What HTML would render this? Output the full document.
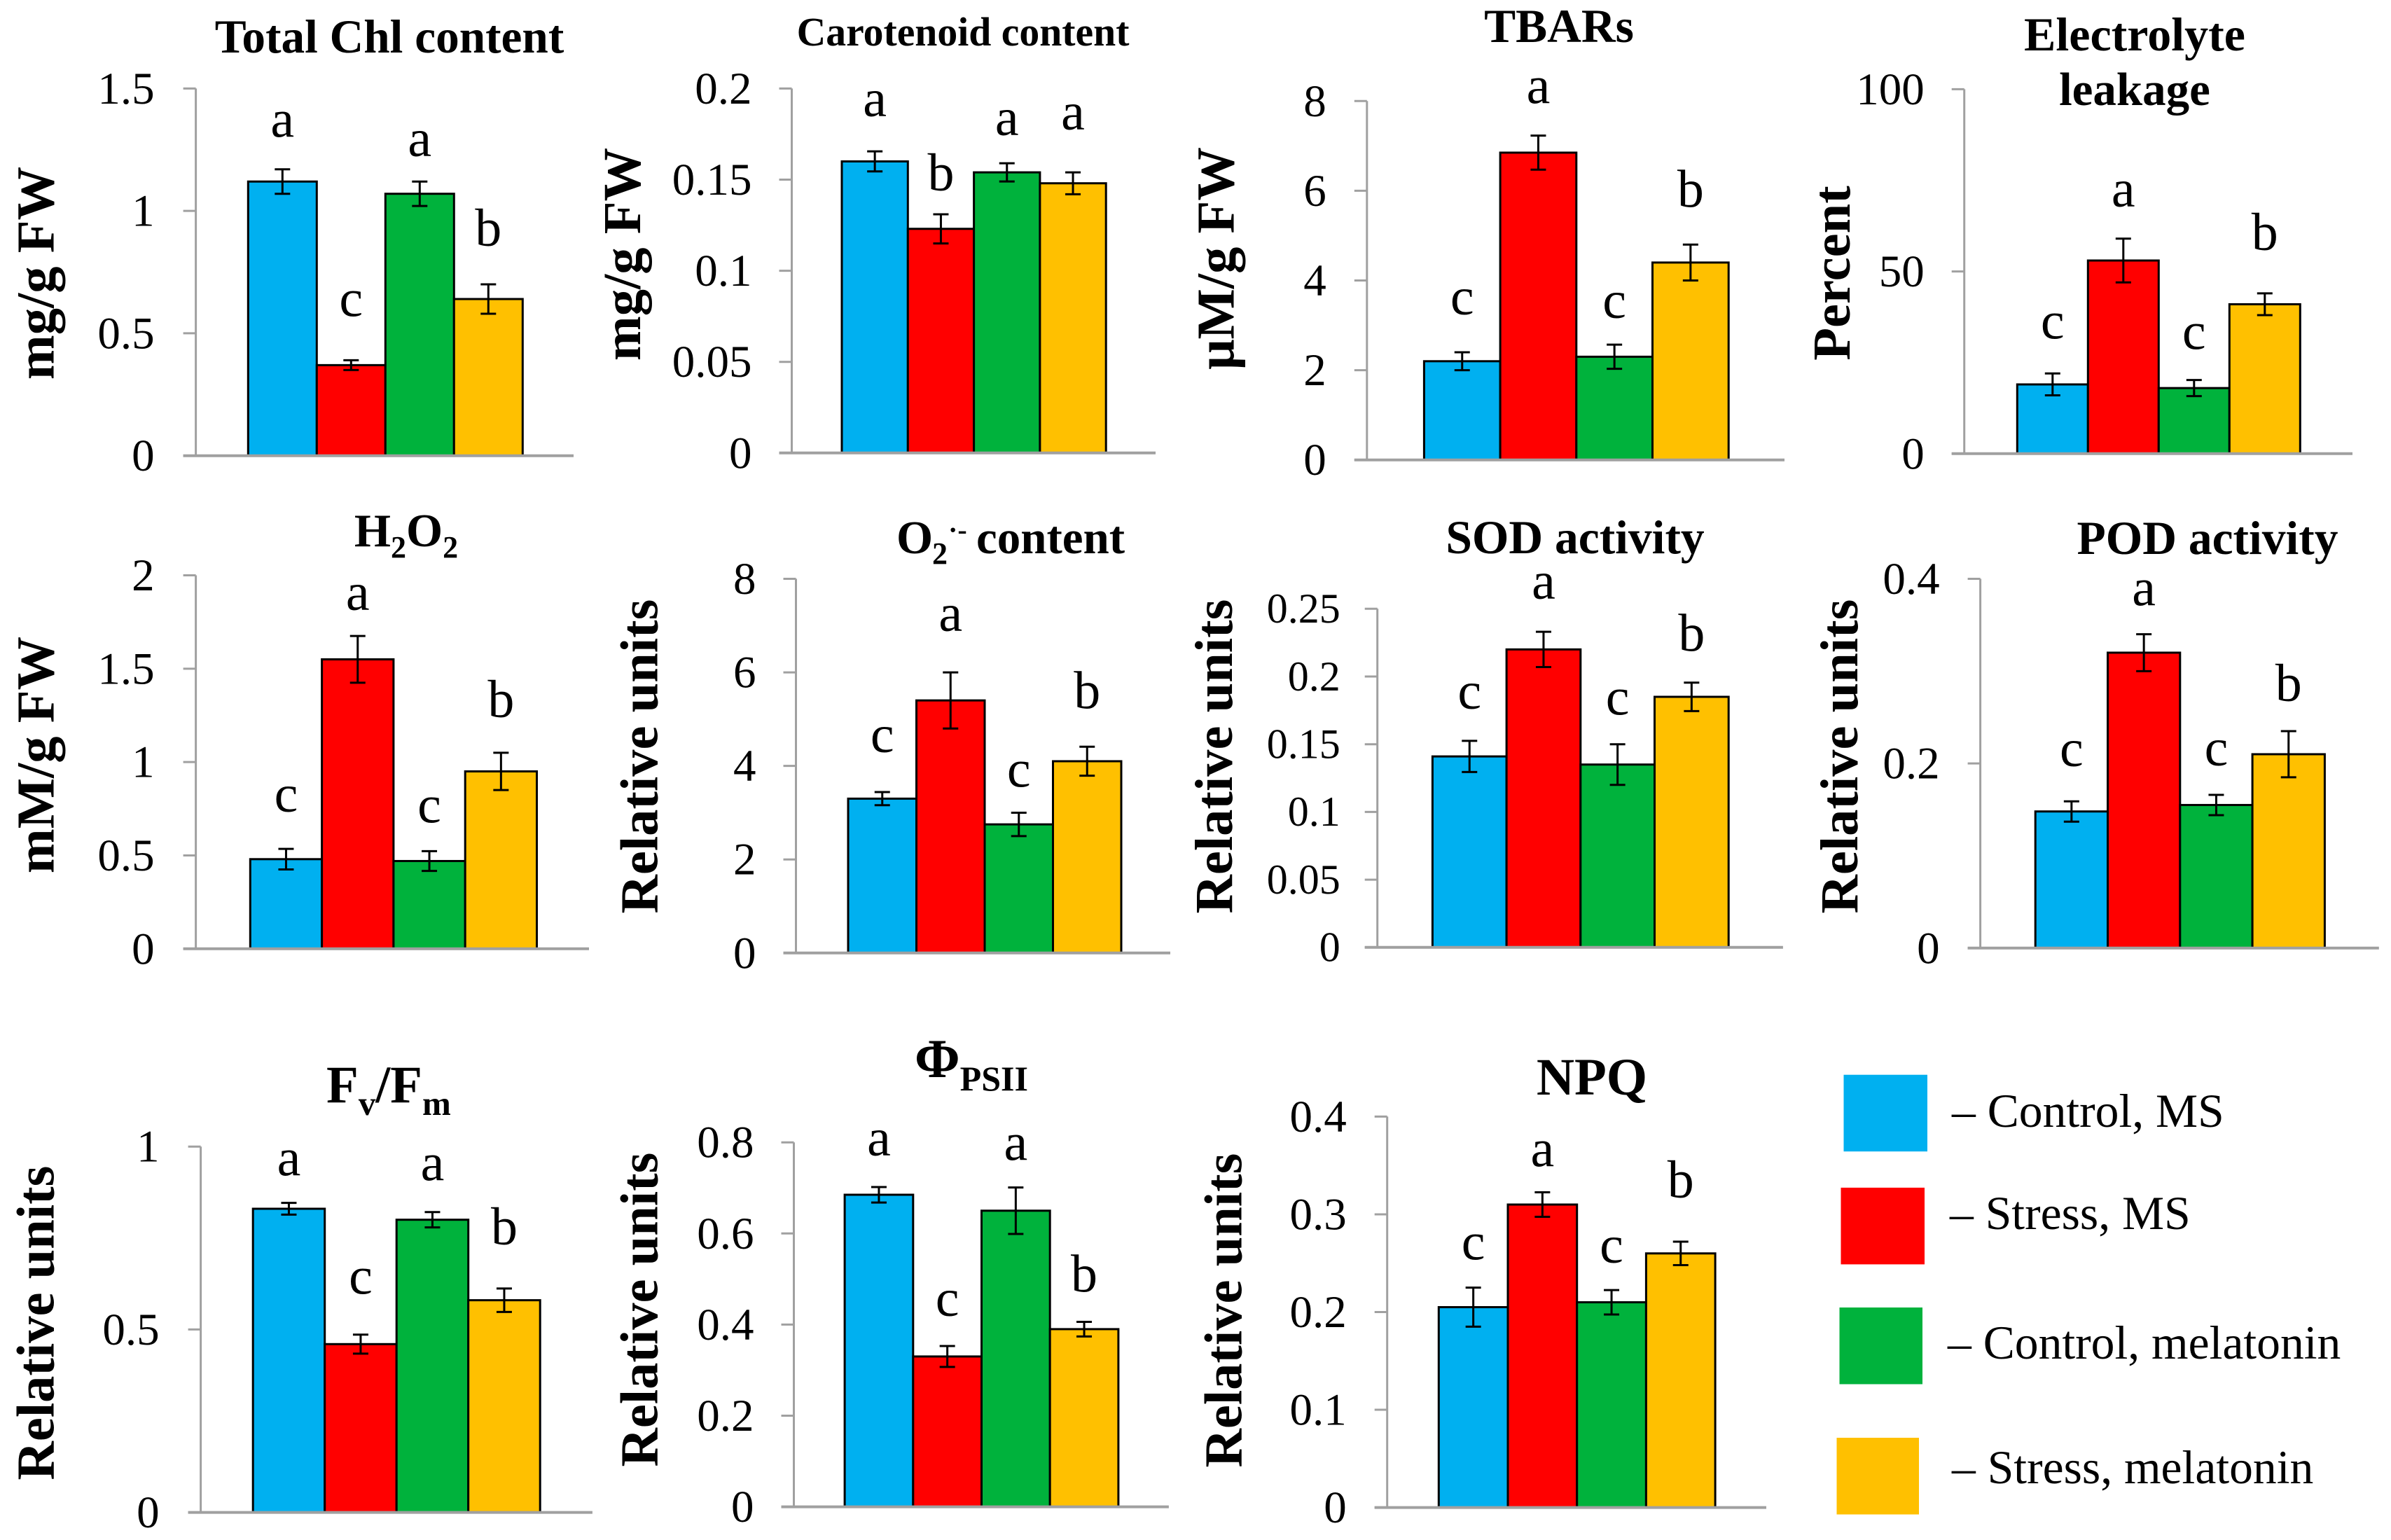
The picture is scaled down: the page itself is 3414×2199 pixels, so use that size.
<!DOCTYPE html>
<html lang="en">
<head>
<meta charset="utf-8">
<title>Melatonin stress response bar charts</title>
<style>
html,body{margin:0;padding:0;background:#fff;}
svg{display:block;}
text{font-family:"Liberation Serif","DejaVu Serif",serif;fill:#000;}
.title{font-weight:bold;text-anchor:middle;}
.ytitle{font-weight:bold;font-size:76.6px;text-anchor:middle;}
.legend-text{font-size:67.6px;}
</style>
</head>
<body>
<svg id="figure" xmlns="http://www.w3.org/2000/svg" width="3414" height="2199" viewBox="0 0 3414 2199">
  <rect width="3414" height="2199" fill="#fff"/>

  <g id="chl"></g>
  <g id="car"></g>
  <g id="tba"></g>
  <g id="ele"></g>
  <g id="hoo"></g>
  <g id="sup"></g>
  <g id="sod"></g>
  <g id="pod"></g>
  <g id="fvm"></g>
  <g id="psi"></g>
  <g id="npq"></g>

  <text class="title" x="556" y="75" font-size="67.3">Total Chl content</text>
  <text class="title" x="1375" y="65" font-size="57.7">Carotenoid content</text>
  <text class="title" x="2226" y="60" font-size="67.5">TBARs</text>
  <text class="title" x="3048" y="72" font-size="68">Electrolyte</text>
  <text class="title" x="3048" y="150" font-size="67">leakage</text>
  <text class="title" x="580" y="780" font-size="67">H<tspan font-size="44" dy="16">2</tspan><tspan dy="-16">O</tspan><tspan font-size="44" dy="16">2</tspan></text>
  <text y="790" font-size="67" font-weight="bold"><tspan x="1280">O</tspan><tspan x="1331" y="805" font-size="44">2</tspan><tspan x="1354" y="770" font-size="40">·-</tspan><tspan x="1394" y="790">content</tspan></text>
  <text class="title" x="2249" y="790" font-size="67.5">SOD activity</text>
  <text class="title" x="3152" y="791" font-size="67.5">POD activity</text>
  <text x="466" y="1574" font-size="75" font-weight="bold">F<tspan font-size="49" dy="18">v</tspan><tspan dy="-18">/F</tspan><tspan font-size="49" dy="18">m</tspan></text>
  <text x="1306" y="1538" font-size="78" font-weight="bold">Φ<tspan font-size="50" dy="19">PSII</tspan></text>
  <text class="title" x="2273" y="1563" font-size="75">NPQ</text>

  <text class="ytitle" transform="translate(76.6 390) rotate(-90)">mg/g FW</text>
  <text class="ytitle" transform="translate(914 363) rotate(-90)">mg/g FW</text>
  <text class="ytitle" transform="translate(1761.5 369) rotate(-90)">μM/g FW</text>
  <text class="ytitle" transform="translate(2641 390) rotate(-90)">Percent</text>
  <text class="ytitle" transform="translate(76.6 1078) rotate(-90)">mM/g FW</text>
  <text class="ytitle" transform="translate(938.5 1080) rotate(-90)">Relative units</text>
  <text class="ytitle" transform="translate(1759 1080) rotate(-90)">Relative units</text>
  <text class="ytitle" transform="translate(2652 1080) rotate(-90)">Relative units</text>
  <text class="ytitle" transform="translate(76.6 1889) rotate(-90)">Relative units</text>
  <text class="ytitle" transform="translate(938.5 1870) rotate(-90)">Relative units</text>
  <text class="ytitle" transform="translate(1772.5 1871) rotate(-90)">Relative units</text>

  <g>
    <rect x="2632.5" y="1534.7" width="119.5" height="109.5" fill="#00B0F0"/>
    <text class="legend-text" x="2787" y="1609">– Control, MS</text>
    <rect x="2628.5" y="1695.9" width="119.5" height="109.5" fill="#FF0000"/>
    <text class="legend-text" x="2784" y="1755">– Stress, MS</text>
    <rect x="2626.5" y="1867" width="118.5" height="109.5" fill="#00B23C"/>
    <text class="legend-text" x="2781" y="1940">– Control, melatonin</text>
    <rect x="2622.5" y="2053" width="117.5" height="109.5" fill="#FFC000"/>
    <text class="legend-text" x="2787" y="2118">– Stress, melatonin</text>
  </g>
</svg>

<script>
const categories = ['Control, MS', 'Stress, MS', 'Control, melatonin', 'Stress, melatonin'];

const chlValues = [1.12, 0.37, 1.07, 0.64];
const chlErrors = [0.05, 0.02, 0.05, 0.06];
const chlLetters = ['a', 'c', 'a', 'b'];
const chlTicks = ['0', '0.5', '1', '1.5'];

const carValues = [0.16, 0.123, 0.154, 0.148];
const carErrors = [0.0055, 0.008, 0.005, 0.006];
const carLetters = ['a', 'b', 'a', 'a'];
const carTicks = ['0', '0.05', '0.1', '0.15', '0.2'];

const tbaValues = [2.2, 6.85, 2.3, 4.4];
const tbaErrors = [0.2, 0.38, 0.27, 0.4];
const tbaLetters = ['c', 'a', 'c', 'b'];
const tbaTicks = ['0', '2', '4', '6', '8'];

const eleValues = [19, 53, 18, 41];
const eleErrors = [3, 6, 2.2, 3];
const eleLetters = ['c', 'a', 'c', 'b'];
const eleTicks = ['0', '50', '100'];

const hooValues = [0.48, 1.55, 0.47, 0.95];
const hooErrors = [0.055, 0.125, 0.053, 0.1];
const hooLetters = ['c', 'a', 'c', 'b'];
const hooTicks = ['0', '0.5', '1', '1.5', '2'];

const supValues = [3.3, 5.4, 2.75, 4.1];
const supErrors = [0.14, 0.6, 0.25, 0.31];
const supLetters = ['c', 'a', 'c', 'b'];
const supTicks = ['0', '2', '4', '6', '8'];

const sodValues = [0.141, 0.22, 0.135, 0.185];
const sodErrors = [0.0115, 0.013, 0.015, 0.0105];
const sodLetters = ['c', 'a', 'c', 'b'];
const sodTicks = ['0', '0.05', '0.1', '0.15', '0.2', '0.25'];

const podValues = [0.148, 0.32, 0.155, 0.21];
const podErrors = [0.011, 0.02, 0.011, 0.025];
const podLetters = ['c', 'a', 'c', 'b'];
const podTicks = ['0', '0.2', '0.4'];

const fvmValues = [0.83, 0.46, 0.8, 0.58];
const fvmErrors = [0.016, 0.026, 0.021, 0.032];
const fvmLetters = ['a', 'c', 'a', 'b'];
const fvmTicks = ['0', '0.5', '1'];

const psiValues = [0.685, 0.33, 0.65, 0.39];
const psiErrors = [0.017, 0.023, 0.051, 0.016];
const psiLetters = ['a', 'c', 'a', 'b'];
const psiTicks = ['0', '0.2', '0.4', '0.6', '0.8'];

const npqValues = [0.205, 0.31, 0.21, 0.26];
const npqErrors = [0.02, 0.0125, 0.0125, 0.012];
const npqLetters = ['c', 'a', 'c', 'b'];
const npqTicks = ['0', '0.1', '0.2', '0.3', '0.4'];

const barColors = ['#00B0F0', '#FF0000', '#00B23C', '#FFC000'];
const SVG_NS = 'http://www.w3.org/2000/svg';

function make(parent, tag, attrs, content) {
  const el = document.createElementNS(SVG_NS, tag);
  for (const key in attrs) el.setAttribute(key, attrs[key]);
  if (content !== undefined) el.textContent = content;
  parent.appendChild(el);
  return el;
}

function drawPanel(p) {
  const group = document.getElementById(p.id);
  const yMax = Math.max.apply(null, p.ticks.map(Number));
  const yScale = v => p.base - (v / yMax) * (p.base - p.top);
  const xScale = i => p.barLeft + i * p.barWidth;

  p.values.forEach(function (v, i) {
    const bar = make(group, 'rect', {
      x: xScale(i), y: yScale(v), width: p.barWidth, height: p.base - yScale(v),
      fill: barColors[i], stroke: '#000', 'stroke-width': 3
    });
    
    
    make(bar, 'title', {}, categories[i]);
  });

  p.values.forEach(function (v, i) {
    const cx = xScale(i) + p.barWidth / 2;
    const hi = yScale(v + p.errors[i]);
    const lo = yScale(v - p.errors[i]);
    const err = make(group, 'path', {
      d: 'M' + (cx - 11) + ' ' + hi + 'H' + (cx + 11) + 'M' + cx + ' ' + hi + 'V' + lo + 'M' + (cx - 11) + ' ' + lo + 'H' + (cx + 11),
      fill: 'none', stroke: '#000', 'stroke-width': 3
    });
    
    

    const letter = make(group, 'text', {
      x: cx, y: hi - p.lifts[i], 'font-size': 76, 'text-anchor': 'middle'
    }, p.letters[i]);
    
    
  });

  const yAxis = make(group, 'line', {
    x1: p.axisX, x2: p.axisX, y1: p.top, y2: p.base, stroke: '#a0a0a0', 'stroke-width': 3
  });
  
  

  const xAxis = make(group, 'line', {
    x1: p.axisX - 18, x2: p.axisEnd, y1: p.base, y2: p.base, stroke: '#a0a0a0', 'stroke-width': 4
  });
  
  

  p.ticks.forEach(function (label) {
    const y = yScale(Number(label));
    const tick = make(group, 'line', {
      x1: p.axisX - 18, x2: p.axisX, y1: y, y2: y, stroke: '#a0a0a0', 'stroke-width': 3
    });
    
    

    const tickLabel = make(group, 'text', {
      x: p.axisX - p.labelGap, y: y + p.tickSize * 0.33, 'font-size': p.tickSize, 'text-anchor': 'end'
    }, label);
    
    
  });
}

const panels = [
  {id:'chl', values:chlValues, errors:chlErrors, letters:chlLetters, ticks:chlTicks, axisX:279.6, axisEnd:819, top:126.4, base:650.7, barLeft:354.3, barWidth:98, lifts:[46,63,36,55], tickSize:65, labelGap:59},
  {id:'car', values:carValues, errors:carErrors, letters:carLetters, ticks:carTicks, axisX:1130.5, axisEnd:1650, top:126.4, base:646.8, barLeft:1202, barWidth:94.3, lifts:[50,34,40,61], tickSize:65, labelGap:57},
  {id:'tba', values:tbaValues, errors:tbaErrors, letters:tbaLetters, ticks:tbaTicks, axisX:1951.8, axisEnd:2548, top:144.3, base:656.7, barLeft:2033.4, barWidth:108.7, lifts:[54,46,38,54], tickSize:65, labelGap:58},
  {id:'ele', values:eleValues, errors:eleErrors, letters:eleLetters, ticks:eleTicks, axisX:2804.7, axisEnd:3359, top:127.4, base:647.8, barLeft:2880.3, barWidth:101, lifts:[50,46,44,62], tickSize:65, labelGap:57},
  {id:'hoo', values:hooValues, errors:hooErrors, letters:hooLetters, ticks:hooTicks, axisX:279.6, axisEnd:841, top:821.5, base:1354.8, barLeft:357.3, barWidth:102.3, lifts:[53,37,41,51], tickSize:65, labelGap:59},
  {id:'sup', values:supValues, errors:supErrors, letters:supLetters, ticks:supTicks, axisX:1136.5, axisEnd:1671, top:826.5, base:1360.8, barLeft:1211, barWidth:97.5, lifts:[57,59,37,55], tickSize:65, labelGap:57},
  {id:'sod', values:sodValues, errors:sodErrors, letters:sodLetters, ticks:sodTicks, axisX:1966.7, axisEnd:2545.9, top:869.3, base:1352.8, barLeft:2045.4, barWidth:105.7, lifts:[46,47,42,45], tickSize:60, labelGap:53},
  {id:'pod', values:podValues, errors:podErrors, letters:podLetters, ticks:podTicks, axisX:2827.6, axisEnd:3396.8, top:826.5, base:1353.8, barLeft:2906.2, barWidth:103.3, lifts:[50,41,42,43], tickSize:65, labelGap:58},
  {id:'fvm', values:fvmValues, errors:fvmErrors, letters:fvmLetters, ticks:fvmTicks, axisX:286.6, axisEnd:845.9, top:1637.2, base:2159.6, barLeft:361.2, barWidth:102.5, lifts:[39,58,45,63], tickSize:65, labelGap:59},
  {id:'psi', values:psiValues, errors:psiErrors, letters:psiLetters, ticks:psiTicks, axisX:1133.5, axisEnd:1668.9, top:1631.2, base:2151.6, barLeft:1206.1, barWidth:97.7, lifts:[45,43,39,43], tickSize:65, labelGap:57},
  {id:'npq', values:npqValues, errors:npqErrors, letters:npqLetters, ticks:npqTicks, axisX:1980.7, axisEnd:2522, top:1594.4, base:2152.6, barLeft:2054.3, barWidth:98.7, lifts:[40,37,39,63], tickSize:65, labelGap:58}
];

panels.forEach(drawPanel);
</script>
</body>
</html>
